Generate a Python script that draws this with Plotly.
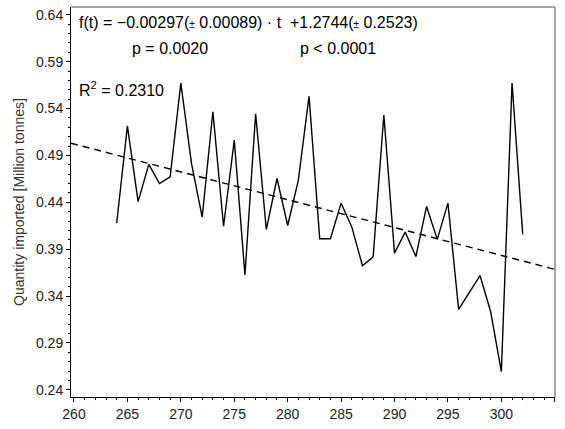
import plotly.graph_objects as go

# Annual quantity imported (million tonnes), t = 264 ... 302
years = list(range(264, 303))
quantity = [
    0.418, 0.5216, 0.4408, 0.4805, 0.4601, 0.4672, 0.5672, 0.4812, 0.4243, 0.5366,
    0.4145, 0.5064, 0.3626, 0.5345, 0.411, 0.4654, 0.4153, 0.4637, 0.5532, 0.4012,
    0.4012, 0.4391, 0.4138, 0.3724, 0.3819, 0.5332, 0.3858, 0.4082, 0.3822, 0.4356,
    0.4005, 0.4391, 0.3258, 0.3437, 0.3619, 0.3233, 0.2595, 0.5672, 0.4058,
]

# Linear fit f(t) = slope * t + intercept
slope = -0.00297
slope_se = 0.00089
intercept = 1.2744
intercept_se = 0.2523
p_slope = "0.0020"
p_intercept = "< 0.0001"
r_squared = 0.2310

x_range = [259.72, 305.02]
y_range = [0.2324, 0.6483]
x_ticks = [260, 265, 270, 275, 280, 285, 290, 295, 300, 305]
y_ticks = [0.24, 0.29, 0.34, 0.39, 0.44, 0.49, 0.54, 0.59, 0.64]

FONT = "Arial, Liberation Sans, sans-serif"

fit_t = [x_range[0], x_range[1]]
fit_y = [slope * t + intercept for t in fit_t]

fig = go.Figure()
fig.add_trace(go.Scatter(
    x=fit_t, y=fit_y, mode="lines",
    line=dict(color="black", width=1.4, dash="7px,5px"),
    hoverinfo="skip", showlegend=False,
))
fig.add_trace(go.Scatter(
    x=years, y=quantity, mode="lines",
    line=dict(color="black", width=1.4),
    showlegend=False,
))

ann_font = dict(family=FONT, size=16, color="black")
pm = "<span style='font-size:10px'>±</span>"
fig.add_annotation(
    xref="paper", yref="paper", x=0.012, y=0.961, xanchor="left", yanchor="middle",
    text=f"f(t) = −{abs(slope):.5f}({pm} {slope_se:.5f}) · t  +{intercept:.4f}({pm} {intercept_se:.4f})",
    showarrow=False, font=ann_font,
)
fig.add_annotation(
    xref="paper", yref="paper", x=0.122, y=0.893, xanchor="left", yanchor="middle",
    text=f"p = {p_slope}", showarrow=False, font=ann_font,
)
fig.add_annotation(
    xref="paper", yref="paper", x=0.469, y=0.893, xanchor="left", yanchor="middle",
    text=f"p {p_intercept}", showarrow=False, font=ann_font,
)
fig.add_annotation(
    xref="paper", yref="paper", x=0.012, y=0.791, xanchor="left", yanchor="middle",
    text=f"R<sup>2</sup> = {r_squared:.4f}", showarrow=False, font=ann_font,
)

# light frame on top and right
fig.add_shape(type="line", xref="paper", yref="paper", x0=0, x1=1, y0=1, y1=1,
              line=dict(color="#888888", width=1.5))
fig.add_shape(type="line", xref="paper", yref="paper", x0=1, x1=1, y0=0, y1=1,
              line=dict(color="#888888", width=1.5))

tick_font = dict(family=FONT, size=14, color="#222222")
fig.update_xaxes(
    range=x_range, tickvals=x_ticks, ticks="outside", ticklen=4, tickwidth=1,
    tickcolor="black", showline=True, linecolor="black", linewidth=1,
    showgrid=False, zeroline=False, tickfont=tick_font,
    minor=dict(dtick=1, tick0=260, ticks="outside", ticklen=2, tickcolor="black", showgrid=False),
)
fig.update_yaxes(
    range=y_range, tickvals=y_ticks, tickformat=".2f", ticks="outside", ticklen=4,
    tickwidth=1, tickcolor="black", showline=True, linecolor="black", linewidth=1,
    showgrid=False, zeroline=False, tickfont=tick_font,
    minor=dict(dtick=0.01, tick0=0.24, ticks="outside", ticklen=2, tickcolor="black", showgrid=False),
    title=dict(text="Quantity imported [Million tonnes]", font=dict(family=FONT, size=14, color="#333333"), standoff=8),
)
fig.update_layout(
    width=565, height=429,
    margin=dict(l=71, r=10, t=7, b=25),
    plot_bgcolor="white", paper_bgcolor="white",
)

fig.write_html("out.html")
